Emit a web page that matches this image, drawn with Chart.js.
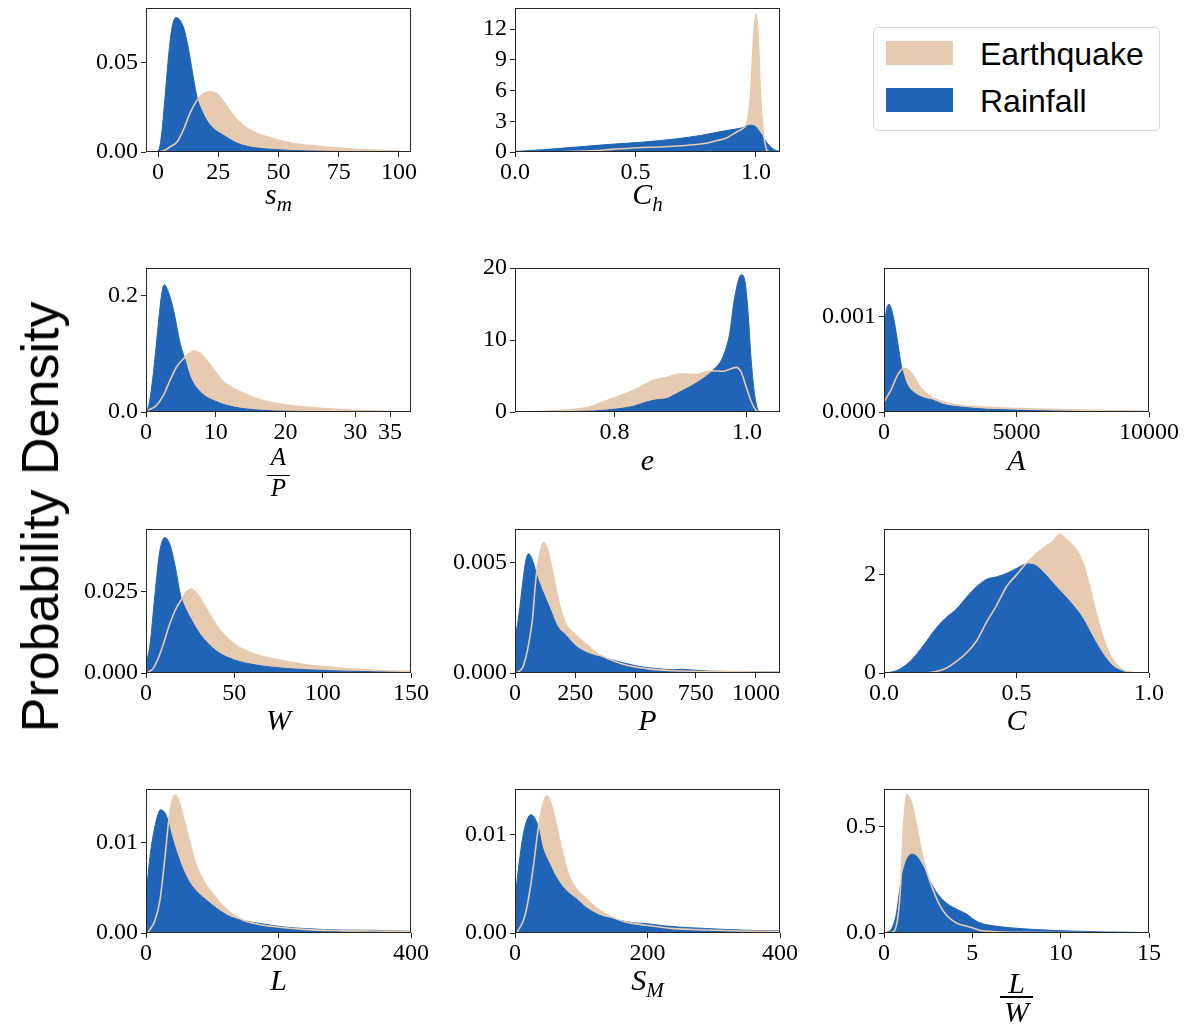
<!DOCTYPE html>
<html>
<head>
<meta charset="utf-8">
<script src="https://cdn.jsdelivr.net/npm/chart.js@4.4.0/dist/chart.umd.min.js"></script>
<style>
html,body{margin:0;padding:0;background:#fff;}
body{width:1185px;height:1029px;position:relative;overflow:hidden;}
canvas{position:absolute;}
.lbl{position:absolute;font-family:'Liberation Serif',serif;font-style:italic;white-space:nowrap;color:#000;transform:translateX(-50%);}
.lbl .sub{font-size:21px;position:relative;top:7px;}
.bar{position:absolute;background:#000;}
.ylab{position:absolute;font-family:'Liberation Sans',Arial,sans-serif;font-size:52px;line-height:52px;white-space:nowrap;color:#000;transform:translate(-50%,-50%) rotate(-90deg);}
.legend{position:absolute;left:873px;top:27px;width:285px;height:102px;border:1px solid #d6d6d6;border-radius:5px;background:#fff;}
.patch{position:absolute;width:67px;height:24px;}
.ltext{position:absolute;font-family:'Liberation Sans',Arial,sans-serif;font-size:32px;line-height:32px;white-space:nowrap;color:#000;}
</style>
</head>
<body>
<script>
// ---------------- data ----------------
// s_m
const sm_xticks = ['0','25','50','75','100'];
const sm_yticks = ['0.00','0.05'];
const sm_eq = [[0.5,0],[2.5,0.0008],[5.2,0.003],[7.9,0.0056],[10.7,0.013],[13.5,0.0224],[16.2,0.029],[18.5,0.0322],[21.1,0.0336],[24.6,0.0323],[28.7,0.0252],[32.9,0.0177],[38.4,0.0121],[45.4,0.0084],[55,0.005],[66.2,0.0032],[77.4,0.0019],[89.9,0.0009],[100.3,0.0005]];
const sm_rain = [[-0.7,0],[0.7,0.0028],[1.8,0.014],[2.8,0.029],[4.2,0.0513],[5.6,0.068],[7.4,0.0752],[10.5,0.07],[11.9,0.0625],[13.2,0.0532],[14.6,0.042],[16.3,0.0299],[18.1,0.0233],[20.2,0.0177],[23,0.0131],[27.2,0.0093],[32.7,0.005],[38.3,0.0028],[49.4,0.0013],[61.9,0.0006],[82.8,0.0002],[100,0.0001]];
// C_h
const ch_xticks = ['0.0','0.5','1.0'];
const ch_yticks = ['0','3','6','9','12'];
const ch_eq = [[0.1,0],[0.19,0.02],[0.26,0.06],[0.33,0.13],[0.4,0.26],[0.51,0.42],[0.6,0.49],[0.67,0.58],[0.74,0.71],[0.8,0.88],[0.83,1.07],[0.88,1.39],[0.92,1.95],[0.944,2.27],[0.965,3.08],[0.979,6.0],[0.99,11.0],[1.0,13.46],[1.01,11.0],[1.018,6.0],[1.028,2.5],[1.035,1.2],[1.045,0.2],[1.055,0]];
const ch_rain = [[0,0.05],[0.118,0.23],[0.257,0.49],[0.396,0.75],[0.535,0.97],[0.674,1.3],[0.771,1.62],[0.882,2.11],[0.938,2.33],[0.976,2.6],[0.993,2.55],[1.021,1.78],[1.049,0.81],[1.076,0.23],[1.097,0.06]];
// A/P
const ap_xticks = ['0','10','20','30','35'];
const ap_yticks = ['0.0','0.2'];
const ap_eq = [[0.3,0.003],[1.5,0.0115],[2.5,0.029],[3.46,0.055],[4.4,0.078],[5.4,0.092],[6.8,0.105],[7.8,0.101],[9.2,0.081],[11.1,0.052],[13.1,0.037],[15.9,0.023],[18.8,0.0144],[21.7,0.0098],[25.5,0.0058],[30.3,0.0029],[35,0.001]];
const ap_rain = [[0,0.002],[0.34,0.0086],[0.82,0.043],[1.3,0.095],[1.78,0.153],[2.2,0.199],[2.6,0.219],[3.2,0.207],[3.94,0.176],[4.9,0.118],[5.52,0.0934],[6.34,0.0605],[7.78,0.0346],[10.2,0.0173],[12.6,0.0086],[15.9,0.0035],[20.7,0.0012],[27,0.0004],[35,0]];
// e
const e_xticks = ['0.8','1.0'];
const e_yticks = ['0','10','20'];
const e_eq = [[0.65,0],[0.693,0.09],[0.733,0.33],[0.763,0.7],[0.783,1.4],[0.8035,2.1],[0.824,2.8],[0.844,3.7],[0.859,4.4],[0.879,4.8],[0.901,5.26],[0.924,5.2],[0.944,5.7],[0.964,5.67],[0.984,6.2],[0.991,5.6],[0.999,3.5],[1.006,1.6],[1.014,0.23],[1.022,0],[1.05,0]];
const e_rain = [[0.65,0],[0.718,0.05],[0.768,0.14],[0.804,0.42],[0.829,0.8],[0.849,1.4],[0.864,1.7],[0.879,1.86],[0.894,2.56],[0.914,3.5],[0.934,4.65],[0.949,5.8],[0.964,7.7],[0.974,10.9],[0.981,15.6],[0.9915,19.07],[0.997,18.2],[1.0015,14.2],[1.0065,7.2],[1.0115,2.56],[1.016,0.47],[1.021,0.05],[1.05,0]];
// A
const a_xticks = ['0','5000','10000'];
const a_yticks = ['0.000','0.001'];
const a_eq = [[0,0.000105],[289,0.000246],[477,0.000368],[666,0.000446],[791,0.000456],[1043,0.000404],[1357,0.000263],[1734,0.000165],[2236,0.000105],[2864,0.00007],[3869,0.000049],[5126,0.000035],[6382,0.000025],[8266,0.000014],[10000,0.000008]];
const a_rain = [[0,0.00089],[100,0.00108],[188,0.00113],[352,0.001],[503,0.000754],[666,0.000474],[854,0.000298],[1106,0.00021],[1482,0.00015],[1859,0.000123],[2236,0.00008],[2864,0.000053],[3869,0.00003],[5126,0.00002],[7638,0.00001],[10000,0.000005]];
// W
const w_xticks = ['0','50','100','150'];
const w_yticks = ['0.000','0.025'];
const w_eq = [[1.3,0.0003],[4.2,0.0015],[7,0.0046],[9.8,0.0088],[12.7,0.0139],[16.4,0.0191],[20.2,0.0227],[23,0.025],[25.3,0.0258],[28.7,0.0245],[33.5,0.0203],[38.2,0.016],[43.9,0.0119],[51.4,0.0083],[60.9,0.0059],[74.1,0.0041],[89.2,0.0026],[104.3,0.0018],[119.5,0.0011],[134.6,0.0007],[150,0.0005]];
const w_rain = [[0,0.0026],[2.3,0.0088],[5.1,0.0243],[7.9,0.0377],[10.8,0.0416],[13.6,0.0393],[16.4,0.0331],[19.7,0.0235],[21.2,0.0212],[25,0.017],[30.6,0.0119],[40,0.0067],[49.5,0.0041],[62.8,0.0024],[81.7,0.0013],[100.6,0.0008],[129,0.0004],[146,0.0005],[150,0.0004]];
// P
const p_xticks = ['0','250','500','750','1000'];
const p_yticks = ['0.000','0.005'];
const p_eq = [[10,0.00003],[31,0.00023],[45,0.0007],[59,0.00145],[73,0.0025],[87,0.0043],[101,0.0053],[119,0.0059],[135,0.0056],[156,0.0046],[184,0.0031],[212,0.0022],[254,0.0017],[296,0.0013],[338,0.00091],[394,0.00061],[464,0.00035],[547,0.0002],[659,0.0001],[869,0.00006],[1100,0.00003]];
const p_rain = [[0,0.0015],[17,0.0027],[31,0.004],[45,0.0051],[56,0.0054],[73,0.0051],[94,0.0043],[115,0.0037],[142,0.003],[177,0.0021],[212,0.0017],[254,0.0012],[310,0.00087],[380,0.00066],[450,0.00046],[520,0.00029],[589,0.0002],[659,0.00015],[687,0.00017],[720,0.00015],[799,0.00009],[939,0.00006],[1100,0.00004]];
// C
const c_xticks = ['0.0','0.5','1.0'];
const c_yticks = ['0','2'];
const c_eq = [[0.136,0],[0.173,0.01],[0.211,0.05],[0.236,0.1],[0.274,0.24],[0.312,0.41],[0.349,0.65],[0.387,1.03],[0.425,1.37],[0.462,1.75],[0.5,1.99],[0.531,2.19],[0.563,2.36],[0.6,2.53],[0.638,2.67],[0.663,2.81],[0.688,2.7],[0.726,2.5],[0.751,2.23],[0.776,1.75],[0.801,1.2],[0.827,0.72],[0.852,0.38],[0.877,0.17],[0.902,0.06],[0.94,0.01],[1.0,0]];
const c_rain = [[0.01,0],[0.048,0.05],[0.085,0.17],[0.123,0.38],[0.161,0.65],[0.198,0.92],[0.236,1.13],[0.274,1.3],[0.312,1.54],[0.349,1.75],[0.387,1.9],[0.425,1.95],[0.462,2.02],[0.5,2.12],[0.538,2.21],[0.563,2.2],[0.6,2.05],[0.638,1.82],[0.676,1.6],[0.714,1.37],[0.751,1.1],[0.789,0.72],[0.827,0.38],[0.864,0.14],[0.902,0.034],[0.94,0.005],[1.0,0]];
// L
const l_xticks = ['0','200','400'];
const l_yticks = ['0.00','0.01'];
const l_eq = [[3.5,0.0001],[13.6,0.0014],[21,0.0036],[28.7,0.0084],[33.8,0.0121],[38.8,0.0144],[43.8,0.0152],[48.9,0.0147],[56,0.0129],[66.5,0.0099],[76.6,0.0073],[89,0.0055],[102,0.0042],[117,0.0029],[132,0.002],[147,0.0014],[167,0.001],[197.5,0.00067],[243,0.00037],[293,0.00026],[343.6,0.00022],[400,0.00015]];
const l_rain = [[0,0.004],[6,0.0084],[13.6,0.0118],[22,0.0136],[31,0.0129],[38.8,0.0107],[46,0.009],[56,0.007],[66.5,0.0055],[79,0.0044],[91.7,0.0036],[107,0.0027],[127,0.0018],[152,0.0013],[177,0.001],[207.6,0.00067],[243,0.00048],[293,0.00033],[343.6,0.0003],[400,0.00018]];
// S_M
const SM_xticks = ['0','200','400'];
const SM_yticks = ['0.00','0.01'];
const SM_eq = [[3.5,0.0001],[13.7,0.00146],[21,0.0037],[29,0.0074],[34,0.0101],[39,0.0121],[47.6,0.0139],[54,0.0132],[61.8,0.0111],[72,0.0081],[82,0.0057],[92,0.0045],[107,0.0035],[127.6,0.0023],[148,0.00156],[168,0.0011],[198.5,0.00078],[239,0.00044],[289.6,0.0003],[340,0.0002],[400,0.00012]];
const SM_rain = [[0,0.0033],[6,0.007],[13.7,0.0104],[23.8,0.012],[34,0.011],[41.5,0.0087],[51.6,0.0071],[61.8,0.0057],[77,0.0043],[92,0.0035],[107,0.0026],[127.6,0.0018],[153,0.00136],[178,0.00105],[198.5,0.00095],[229,0.0007],[264,0.00054],[315,0.00037],[365.6,0.00024],[400,0.0002]];
// L/W
const lw_xticks = ['0','5','10','15'];
const lw_yticks = ['0.0','0.5'];
const lw_eq = [[0.15,0],[0.53,0.005],[0.81,0.09],[0.96,0.25],[1.09,0.48],[1.28,0.65],[1.56,0.61],[1.85,0.5],[2.13,0.38],[2.41,0.29],[2.79,0.2],[3.16,0.13],[3.54,0.083],[4.1,0.047],[4.86,0.028],[5.42,0.0126],[6.37,0.006],[7.68,0.003],[15,0]];
const lw_rain = [[0.15,0.003],[0.43,0.02],[0.7,0.09],[0.85,0.18],[0.98,0.25],[1.15,0.31],[1.32,0.35],[1.56,0.37],[1.85,0.36],[2.22,0.31],[2.6,0.245],[2.98,0.19],[3.54,0.14],[4.29,0.105],[4.7,0.088],[5.0,0.068],[5.42,0.048],[6.18,0.034],[7.12,0.025],[8.63,0.016],[10.5,0.0094],[12.4,0.005],[15,0.002]];

// ---------------- layout / style ----------------
const EQ_COLOR = '#e6cbb1';
const RAIN_COLOR = '#2064b7';
const AXIS_COLOR = '#262626';
const YW = 110, RP = 35, TP = 22, XH = 40, PW = 265, PH = 144;
const colLeft = [146, 515, 884];
const rowTop = [8, 268, 529, 789];

const panels = [
  {row:0,col:0,x:[-5,105],   y:[0,0.0805], xt:sm_xticks, yt:sm_yticks, eq:sm_eq, rain:sm_rain},
  {row:0,col:1,x:[0,1.1],    y:[0,14.05],  xt:ch_xticks, yt:ch_yticks, eq:ch_eq, rain:ch_rain},
  {row:1,col:0,x:[0,38],     y:[0,0.248],  xt:ap_xticks, yt:ap_yticks, eq:ap_eq, rain:ap_rain},
  {row:1,col:1,x:[0.65,1.05],y:[0,20],     xt:e_xticks,  yt:e_yticks,  eq:e_eq,  rain:e_rain},
  {row:1,col:2,x:[0,10000],  y:[0,0.00151],xt:a_xticks,  yt:a_yticks,  eq:a_eq,  rain:a_rain},
  {row:2,col:0,x:[0,150],    y:[0,0.0442], xt:w_xticks,  yt:w_yticks,  eq:w_eq,  rain:w_rain},
  {row:2,col:1,x:[0,1100],   y:[0,0.00652],xt:p_xticks,  yt:p_yticks,  eq:p_eq,  rain:p_rain},
  {row:2,col:2,x:[0,1],      y:[0,2.92],   xt:c_xticks,  yt:c_yticks,  eq:c_eq,  rain:c_rain},
  {row:3,col:0,x:[0,400],    y:[0,0.0159], xt:l_xticks,  yt:l_yticks,  eq:l_eq,  rain:l_rain},
  {row:3,col:1,x:[0,400],    y:[0,0.0146], xt:SM_xticks, yt:SM_yticks, eq:SM_eq, rain:SM_rain},
  {row:3,col:2,x:[0,15],     y:[0,0.676],  xt:lw_xticks, yt:lw_yticks, eq:lw_eq, rain:lw_rain}
];

const framePlugin = {
  id: 'frame',
  afterDraw(chart) {
    const {ctx, chartArea: a} = chart;
    ctx.save();
    ctx.strokeStyle = AXIS_COLOR;
    ctx.lineWidth = 1;
    ctx.strokeRect(a.left + 0.5, a.top + 0.5, a.right - a.left - 1, a.bottom - a.top - 1);
    ctx.restore();
  }
};

const toXY = arr => arr.map(p => ({x: p[0], y: p[1]}));

function axisCfg(range, labels, isX) {
  return {
    type: 'linear',
    min: range[0], max: range[1],
    afterBuildTicks: s => { s.ticks = labels.map(t => ({value: Number(t)})); },
    afterFit: s => { if (isX) s.height = XH; else s.width = YW; },
    grid: {display: true, drawOnChartArea: false, drawTicks: true, tickLength: 5,
           color: AXIS_COLOR, tickColor: AXIS_COLOR, lineWidth: 1, tickWidth: 1},
    border: {display: false},
    ticks: {autoSkip: false, maxRotation: 0, minRotation: 0, padding: isX ? 1 : 3,
            color: '#000', font: {family: 'Liberation Serif', size: 24},
            callback: (v, i) => labels[i]}
  };
}

function makePanel(d) {
  const cv = document.createElement('canvas');
  const W = YW + PW + RP, H = TP + PH + XH;
  cv.width = W; cv.height = H;
  cv.style.width = W + 'px'; cv.style.height = H + 'px';
  cv.style.left = (colLeft[d.col] - YW) + 'px';
  cv.style.top = (rowTop[d.row] - TP) + 'px';
  document.body.appendChild(cv);
  const eqPts = toXY(d.eq), rainPts = toXY(d.rain);
  new Chart(cv.getContext('2d'), {
    type: 'line',
    data: {
      datasets: [
        {label: 'Earthquake line', data: eqPts, borderColor: EQ_COLOR, borderWidth: 1.6, fill: false,
         pointRadius: 0, cubicInterpolationMode: 'monotone'},
        {label: 'Rainfall', data: rainPts, borderColor: RAIN_COLOR, backgroundColor: RAIN_COLOR, borderWidth: 1,
         fill: 'origin', pointRadius: 0, cubicInterpolationMode: 'monotone'},
        {label: 'Earthquake', data: eqPts, borderColor: EQ_COLOR, backgroundColor: EQ_COLOR, borderWidth: 0,
         fill: 'origin', pointRadius: 0, cubicInterpolationMode: 'monotone'}
      ]
    },
    options: {
      responsive: false, animation: false, events: [], devicePixelRatio: 1,
      layout: {padding: {left: 0, right: RP, top: TP, bottom: 0}, autoPadding: false},
      plugins: {legend: {display: false}, tooltip: {enabled: false}},
      scales: {x: axisCfg(d.x, d.xt, true), y: axisCfg(d.y, d.yt, false)}
    },
    plugins: [framePlugin]
  });
}
panels.forEach(makePanel);

// ---------------- axis labels (HTML text) ----------------
function label(html, cx, baseline, size) {
  const el = document.createElement('div');
  el.className = 'lbl';
  el.style.fontSize = size + 'px';
  el.style.lineHeight = size + 'px';
  el.style.left = cx + 'px';
  el.style.top = (baseline - 0.8375 * size) + 'px';
  el.innerHTML = html;
  document.body.appendChild(el);
}
function bar(x, y, w, h) {
  const el = document.createElement('div');
  el.className = 'bar';
  el.style.left = x + 'px'; el.style.top = y + 'px';
  el.style.width = w + 'px'; el.style.height = h + 'px';
  document.body.appendChild(el);
}
const cx = [278.5, 647.5, 1016.5];
label('s<span class="sub">m</span>', cx[0], 204, 30);
label('C<span class="sub">h</span>', cx[1], 204, 30);
label('A', cx[0], 465, 25); bar(267, 475, 23, 1.3); label('P', cx[0], 496, 25);
label('e', cx[1], 470, 30);
label('A', cx[2], 470, 30);
label('W', cx[0], 730, 30);
label('P', cx[1], 730, 30);
label('C', cx[2], 730, 30);
label('L', cx[0], 990, 30);
label('S<span class="sub">M</span>', cx[1], 990, 30);
label('L', cx[2], 993, 30); bar(1000, 996, 33, 1.6); label('W', cx[2], 1022, 30);

// big y label
const yl = document.createElement('div');
yl.className = 'ylab';
yl.style.left = '40px'; yl.style.top = '517px';
yl.textContent = 'Probability Density';
document.body.appendChild(yl);

// legend
const lg = document.createElement('div');
lg.className = 'legend';
document.body.appendChild(lg);
function legendRow(color, text, top, baseline) {
  const p = document.createElement('div');
  p.className = 'patch'; p.style.background = color;
  p.style.left = '886px'; p.style.top = top + 'px';
  document.body.appendChild(p);
  const t = document.createElement('div');
  t.className = 'ltext'; t.textContent = text;
  t.style.left = '980px'; t.style.top = (baseline - 0.8465 * 32) + 'px';
  document.body.appendChild(t);
}
legendRow(EQ_COLOR, 'Earthquake', 41, 65);
legendRow(RAIN_COLOR, 'Rainfall', 88, 112);
</script>
</body>
</html>
